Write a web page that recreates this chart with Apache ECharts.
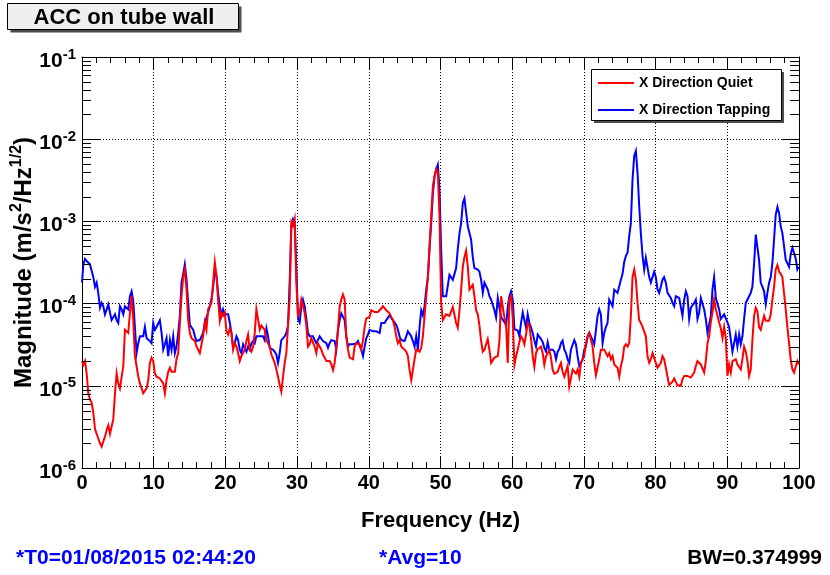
<!DOCTYPE html>
<html>
<head>
<meta charset="utf-8">
<title>ACC on tube wall</title>
<script src="https://cdn.jsdelivr.net/npm/echarts@6/dist/echarts.min.js"></script>
<style>
  html, body { margin: 0; padding: 0; background: #ffffff; }
  #chart { width: 830px; height: 575px; }
</style>
</head>
<body>
<div id="chart"></div>
<script>
// Amplitude spectral density of the accelerometer on the tube wall, 0-100 Hz.
const freqHz = [
  0.00, 0.19, 0.42, 0.65, 0.88, 1.11, 1.35, 1.58,
  1.81, 2.04, 2.27, 2.51, 2.74, 2.97, 3.20, 3.44,
  3.67, 3.90, 4.13, 4.36, 4.60, 4.83, 5.06, 5.29,
  5.53, 5.76, 5.99, 6.22, 6.45, 6.69, 6.92, 7.15,
  7.38, 7.61, 7.85, 8.08, 8.31, 8.54, 8.77, 9.01,
  9.24, 9.47, 9.70, 9.93, 10.17, 10.40, 10.63, 10.86,
  11.10, 11.33, 11.56, 11.79, 12.02, 12.26, 12.49, 12.72,
  12.95, 13.18, 13.42, 13.65, 13.88, 14.11, 14.34, 14.58,
  14.81, 15.04, 15.27, 15.51, 15.74, 15.97, 16.20, 16.43,
  16.66, 16.89, 17.13, 17.36, 17.59, 17.82, 18.05, 18.29,
  18.52, 18.75, 18.98, 19.22, 19.45, 19.68, 19.91, 20.14,
  20.38, 20.61, 20.84, 21.07, 21.30, 21.54, 21.77, 22.00,
  22.23, 22.47, 22.70, 22.93, 23.16, 23.39, 23.63, 23.86,
  24.09, 24.32, 24.55, 24.79, 25.02, 25.25, 25.48, 25.72,
  25.95, 26.18, 26.41, 26.64, 26.88, 27.11, 27.34, 27.57,
  27.80, 28.04, 28.27, 28.50, 28.73, 28.96, 29.20, 29.43,
  29.66, 29.89, 30.13, 30.36, 30.59, 30.82, 31.05, 31.29,
  31.52, 31.75, 31.98, 32.21, 32.45, 32.68, 32.91, 33.14,
  33.38, 33.61, 33.85, 34.08, 34.31, 34.54, 34.77, 35.01,
  35.24, 35.47, 35.70, 35.94, 36.17, 36.40, 36.63, 36.86,
  37.10, 37.33, 37.56, 37.79, 38.02, 38.26, 38.49, 38.72,
  38.95, 39.19, 39.42, 39.65, 39.88, 40.11, 40.35, 40.58,
  40.81, 41.04, 41.27, 41.51, 41.74, 41.97, 42.20, 42.44,
  42.67, 42.90, 43.13, 43.36, 43.60, 43.83, 44.06, 44.29,
  44.52, 44.76, 44.99, 45.22, 45.45, 45.69, 45.92, 46.15,
  46.38, 46.61, 46.85, 47.08, 47.31, 47.54, 47.77, 48.01,
  48.24, 48.47, 48.70, 48.94, 49.17, 49.40, 49.63, 49.86,
  50.09, 50.32, 50.56, 50.79, 51.02, 51.25, 51.48, 51.72,
  51.95, 52.18, 52.41, 52.65, 52.88, 53.11, 53.34, 53.57,
  53.81, 54.04, 54.27, 54.50, 54.73, 54.97, 55.20, 55.43,
  55.66, 55.90, 56.13, 56.36, 56.59, 56.82, 57.06, 57.29,
  57.52, 57.75, 57.99, 58.22, 58.45, 58.68, 58.91, 59.15,
  59.38, 59.61, 59.84, 60.07, 60.31, 60.54, 60.77, 61.00,
  61.23, 61.47, 61.70, 61.93, 62.16, 62.40, 62.63, 62.86,
  63.09, 63.32, 63.56, 63.79, 64.02, 64.25, 64.48, 64.72,
  64.95, 65.18, 65.41, 65.65, 65.88, 66.11, 66.34, 66.57,
  66.80, 67.03, 67.27, 67.50, 67.73, 67.96, 68.19, 68.43,
  68.66, 68.89, 69.12, 69.36, 69.59, 69.82, 70.05, 70.28,
  70.52, 70.75, 70.98, 71.21, 71.44, 71.68, 71.91, 72.14,
  72.37, 72.61, 72.84, 73.07, 73.30, 73.53, 73.77, 74.00,
  74.23, 74.46, 74.69, 74.93, 75.16, 75.39, 75.62, 75.86,
  76.09, 76.32, 76.55, 76.78, 77.02, 77.25, 77.48, 77.71,
  77.94, 78.18, 78.41, 78.64, 78.87, 79.11, 79.34, 79.57,
  79.80, 80.03, 80.27, 80.50, 80.73, 80.96, 81.19, 81.43,
  81.66, 81.89, 82.12, 82.36, 82.59, 82.82, 83.05, 83.29,
  83.52, 83.75, 83.99, 84.22, 84.45, 84.68, 84.91, 85.15,
  85.38, 85.61, 85.84, 86.08, 86.31, 86.54, 86.77, 87.00,
  87.24, 87.47, 87.70, 87.93, 88.16, 88.40, 88.63, 88.86,
  89.09, 89.33, 89.56, 89.79, 90.02, 90.25, 90.49, 90.72,
  90.95, 91.18, 91.41, 91.65, 91.88, 92.11, 92.34, 92.58,
  92.81, 93.04, 93.27, 93.50, 93.74, 93.97, 94.20, 94.43,
  94.66, 94.90, 95.13, 95.36, 95.59, 95.83, 96.06, 96.29,
  96.52, 96.75, 96.99, 97.22, 97.45, 97.68, 97.91, 98.15,
  98.38, 98.61, 98.84, 99.08, 99.31, 99.54, 99.77, 99.95
];

// X direction, tapping on the tube (m/s^2/Hz^1/2)
const tappingMag = [
  1.8e-4, 3.0e-4, 3.5e-4, 3.3e-4, 3.2e-4, 3.0e-4, 3.0e-4, 2.1e-4,
  1.6e-4, 1.8e-4, 1.35e-4, 8.9e-5, 1.02e-4, 9.3e-5, 7.4e-5, 8.5e-5,
  9.8e-5, 7.8e-5, 6.3e-5, 6.3e-5, 7.4e-5, 6.3e-5, 5.8e-5, 9.3e-5,
  8.5e-5, 7.4e-5, 9.3e-5, 9.8e-5, 8.5e-5, 1.23e-4, 1.41e-4, 1.07e-4,
  5.2e-5, 2.5e-5, 3.3e-5, 4.0e-5, 4.2e-5, 4.0e-5, 5.2e-5, 3.8e-5,
  3.6e-5, 3.5e-5, 3.3e-5, 5.8e-5, 4.8e-5, 5.2e-5, 5.0e-5, 6.3e-5,
  4.4e-5, 2.75e-5, 3.2e-5, 3.8e-5, 2.3e-5, 3.6e-5, 2.75e-5, 4.0e-5,
  2.5e-5, 3.0e-5, 4.4e-5, 7.1e-5, 1.8e-4, 2.3e-4, 3.0e-4, 1.95e-4,
  1.02e-4, 5.5e-5, 5.8e-5, 4.8e-5, 4.0e-5, 3.5e-5, 3.5e-5, 3.6e-5,
  3.5e-5, 4.4e-5, 5.9e-5, 5.6e-5, 7.8e-5, 9.3e-5, 1.12e-4, 1.6e-4,
  2.6e-4, 2.2e-4, 1.35e-4, 9.3e-5, 7.1e-5, 8.5e-5, 7.4e-5, 7.1e-5,
  7.4e-5, 5.9e-5, 4.4e-5, 3.0e-5, 3.3e-5, 4.0e-5, 3.6e-5, 2.75e-5,
  2.5e-5, 3.2e-5, 3.3e-5, 2.6e-5, 3.0e-5, 2.75e-5, 3.3e-5, 3.5e-5,
  3.3e-5, 4.0e-5, 3.8e-5, 4.0e-5, 3.8e-5, 4.0e-5, 3.6e-5, 5.0e-5,
  4.0e-5, 2.9e-5, 2.75e-5, 2.75e-5, 2.6e-5, 2.4e-5, 1.9e-5, 2.5e-5,
  3.6e-5, 3.8e-5, 4.0e-5, 4.4e-5, 5.4e-5, 1.8e-4, 8.9e-4, 1.07e-3,
  9.8e-4, 2.9e-4, 6.5e-5, 5.9e-5, 9.3e-5, 1.12e-4, 9.3e-5, 6.5e-5,
  4.4e-5, 4.0e-5, 4.2e-5, 4.0e-5, 3.6e-5, 3.3e-5, 3.6e-5, 4.0e-5,
  4.0e-5, 3.5e-5, 3.5e-5, 3.3e-5, 2.9e-5, 3.3e-5, 3.6e-5, 3.8e-5,
  3.5e-5, 2.75e-5, 4.8e-5, 6.3e-5, 7.6e-5, 7.6e-5, 6.3e-5, 4.0e-5,
  3.0e-5, 3.2e-5, 3.3e-5, 3.2e-5, 3.3e-5, 3.3e-5, 3.5e-5, 3.6e-5,
  2.75e-5, 2.3e-5, 3.0e-5, 3.8e-5, 4.2e-5, 4.8e-5, 5.0e-5, 4.6e-5,
  4.4e-5, 4.6e-5, 4.4e-5, 4.4e-5, 5.8e-5, 5.8e-5, 5.8e-5, 6.3e-5,
  6.6e-5, 7.2e-5, 6.9e-5, 6.3e-5, 6.0e-5, 5.5e-5, 4.8e-5, 4.0e-5,
  3.6e-5, 3.5e-5, 3.5e-5, 4.0e-5, 4.6e-5, 4.4e-5, 4.0e-5, 3.5e-5,
  3.0e-5, 4.0e-5, 2.75e-5, 5.2e-5, 8.3e-5, 7.2e-5, 9.3e-5, 1.48e-4,
  2.1e-4, 4.6e-4, 9.5e-4, 2.2e-3, 3.55e-3, 4.3e-3, 4.9e-3, 2.45e-3,
  4.6e-4, 1.23e-4, 1.23e-4, 1.23e-4, 1.29e-4, 2.24e-4, 2.1e-4, 1.95e-4,
  2.3e-4, 2.7e-4, 4.6e-4, 7.2e-4, 9.5e-4, 1.66e-3, 1.9e-3, 2.0e-3,
  8.7e-4, 8.3e-4, 6.0e-4, 3.7e-4, 2.7e-4, 2.6e-4, 2.6e-4, 2.45e-4,
  1.95e-4, 1.35e-4, 1.8e-4, 1.86e-4, 1.48e-4, 1.23e-4, 1.12e-4, 1.12e-4,
  8.3e-5, 6.8e-5, 1.17e-4, 1.12e-4, 6.8e-5, 6.8e-5, 6.0e-5, 5.4e-5,
  9.1e-5, 1.23e-4, 1.41e-4, 1.12e-4, 4.9e-5, 5.1e-5, 4.7e-5, 4.0e-5,
  5.8e-5, 7.8e-5, 7.4e-5, 5.1e-5, 7.4e-5, 5.8e-5, 5.1e-5, 4.4e-5,
  3.55e-5, 3.0e-5, 4.2e-5, 4.0e-5, 3.7e-5, 3.4e-5, 2.9e-5, 2.6e-5,
  3.4e-5, 2.75e-5, 2.75e-5, 2.75e-5, 2.6e-5, 2.1e-5, 2.6e-5, 2.8e-5,
  3.3e-5, 3.55e-5, 2.75e-5, 2.5e-5, 2.1e-5, 1.9e-5, 2.75e-5, 2.9e-5,
  3.6e-5, 3.2e-5, 2.3e-5, 1.74e-5, 1.9e-5, 2.1e-5, 2.75e-5, 3.0e-5,
  4.0e-5, 4.4e-5, 4.0e-5, 3.6e-5, 3.2e-5, 4.8e-5, 7.1e-5, 8.5e-5,
  7.4e-5, 3.3e-5, 4.4e-5, 5.2e-5, 5.8e-5, 1.12e-4, 1.12e-4, 9.3e-5,
  1.48e-4, 1.41e-4, 1.35e-4, 1.29e-4, 1.95e-4, 2.3e-4, 3.2e-4, 3.8e-4,
  4.2e-4, 6.6e-4, 9.5e-4, 3.2e-3, 6.3e-3, 7.2e-3, 3.9e-3, 1.55e-3,
  7.2e-4, 3.8e-4, 2.6e-4, 3.6e-4, 3.8e-4, 2.1e-4, 1.8e-4, 2.1e-4,
  2.45e-4, 2.1e-4, 1.48e-4, 1.35e-4, 1.6e-4, 1.95e-4, 2.1e-4, 1.8e-4,
  1.35e-4, 1.35e-4, 1.17e-4, 1.02e-4, 9.3e-5, 1.23e-4, 1.29e-4, 1.17e-4,
  1.12e-4, 7.1e-5, 1.12e-4, 1.41e-4, 1.23e-4, 6.5e-5, 8.9e-5, 8.9e-5,
  1.02e-4, 1.12e-4, 6.5e-5, 7.8e-5, 1.17e-4, 1.17e-4, 8.5e-5, 6.5e-5,
  4.4e-5, 4.6e-5, 7.1e-5, 1.48e-4, 2.1e-4, 1.17e-4, 1.12e-4, 8.5e-5,
  6.5e-5, 6.8e-5, 7.4e-5, 7.1e-5, 5.9e-5, 5.2e-5, 5.2e-5, 2.6e-5,
  3.3e-5, 4.2e-5, 3.0e-5, 4.2e-5, 3.2e-5, 4.0e-5, 6.5e-5, 1.02e-4,
  1.07e-4, 1.23e-4, 1.35e-4, 1.6e-4, 3.1e-4, 6.9e-4, 6.9e-4, 3.4e-4,
  1.8e-4, 1.6e-4, 1.41e-4, 9.8e-5, 1.35e-4, 1.8e-4, 2.1e-4, 3.1e-4,
  6.0e-4, 1.2e-3, 1.5e-3, 1.26e-3, 8.7e-4, 7.2e-4, 5.0e-4, 3.4e-4,
  3.1e-4, 2.8e-4, 4.0e-4, 4.8e-4, 4.6e-4, 3.55e-4, 2.6e-4, 2.8e-4
];

// X direction, quiet tube (m/s^2/Hz^1/2)
const quietMag = [
  2.0e-5, 1.8e-5, 2.0e-5, 1.41e-5, 8.1e-6, 6.8e-6, 6.2e-6, 4.7e-6,
  3.0e-6, 2.6e-6, 2.3e-6, 2.0e-6, 1.82e-6, 2.1e-6, 2.4e-6, 2.9e-6,
  3.3e-6, 2.6e-6, 3.2e-6, 3.9e-6, 8.1e-6, 1.41e-5, 1.07e-5, 9.3e-6,
  9.8e-6, 1.74e-5, 4.8e-5, 5.0e-5, 4.4e-5, 7.8e-5, 1.23e-4, 6.3e-5,
  2.3e-5, 1.74e-5, 1.29e-5, 1.07e-5, 1.02e-5, 8.1e-6, 8.5e-6, 9.3e-6,
  1.17e-5, 1.9e-5, 2.2e-5, 2.0e-5, 1.41e-5, 1.29e-5, 1.29e-5, 1.23e-5,
  1.17e-5, 1.07e-5, 8.1e-6, 1.17e-5, 1.48e-5, 1.66e-5, 1.48e-5, 1.41e-5,
  1.48e-5, 2.1e-5, 2.5e-5, 5.8e-5, 1.23e-4, 2.1e-4, 2.6e-4, 1.48e-4,
  6.3e-5, 4.4e-5, 3.8e-5, 3.6e-5, 3.5e-5, 3.0e-5, 2.75e-5, 2.5e-5,
  2.5e-5, 4.0e-5, 5.9e-5, 4.8e-5, 8.5e-5, 9.3e-5, 1.02e-4, 1.8e-4,
  3.2e-4, 2.2e-4, 1.12e-4, 6.2e-5, 7.8e-5, 7.1e-5, 7.8e-5, 4.6e-5,
  4.2e-5, 5.0e-5, 4.4e-5, 2.75e-5, 3.3e-5, 3.0e-5, 2.5e-5, 2.0e-5,
  2.3e-5, 2.3e-5, 2.75e-5, 3.5e-5, 4.2e-5, 2.75e-5, 2.6e-5, 3.0e-5,
  4.4e-5, 8.5e-5, 6.5e-5, 4.8e-5, 5.4e-5, 5.6e-5, 4.8e-5, 3.6e-5,
  3.3e-5, 3.0e-5, 2.4e-5, 2.3e-5, 1.9e-5, 1.58e-5, 1.29e-5, 1.02e-5,
  8.5e-6, 1.29e-5, 1.9e-5, 2.5e-5, 2.4e-5, 1.12e-4, 9.8e-4, 8.9e-4,
  1.07e-3, 1.8e-4, 7.1e-5, 7.8e-5, 1.12e-4, 1.07e-4, 7.8e-5, 5.4e-5,
  3.0e-5, 3.2e-5, 3.8e-5, 4.0e-5, 3.0e-5, 2.5e-5, 3.3e-5, 3.0e-5,
  2.75e-5, 2.4e-5, 2.2e-5, 2.0e-5, 1.9e-5, 2.0e-5, 1.82e-5, 1.55e-5,
  1.9e-5, 1.9e-5, 4.8e-5, 9.3e-5, 1.12e-4, 1.29e-4, 1.12e-4, 4.0e-5,
  2.75e-5, 2.2e-5, 2.1e-5, 2.1e-5, 3.0e-5, 3.3e-5, 3.3e-5, 3.2e-5,
  2.75e-5, 3.6e-5, 5.2e-5, 6.6e-5, 6.9e-5, 6.9e-5, 8.3e-5, 8.7e-5,
  7.9e-5, 7.6e-5, 7.9e-5, 8.3e-5, 8.7e-5, 9.3e-5, 9.8e-5, 8.3e-5,
  7.9e-5, 7.6e-5, 6.9e-5, 6.3e-5, 5.2e-5, 4.0e-5, 3.3e-5, 3.6e-5,
  3.0e-5, 3.0e-5, 2.75e-5, 2.6e-5, 2.3e-5, 1.55e-5, 1.17e-5, 1.17e-5,
  2.1e-5, 2.75e-5, 2.75e-5, 2.6e-5, 2.9e-5, 4.0e-5, 6.9e-5, 1.23e-4,
  2.1e-4, 5.0e-4, 1.15e-3, 2.7e-3, 3.55e-3, 4.3e-3, 3.9e-3, 1.15e-3,
  1.02e-4, 6.3e-5, 6.0e-5, 7.4e-5, 7.1e-5, 7.1e-5, 6.8e-5, 9.1e-5,
  8.7e-5, 5.8e-5, 5.1e-5, 8.3e-5, 1.48e-4, 2.8e-4, 3.7e-4, 4.4e-4,
  2.8e-4, 1.48e-4, 1.48e-4, 1.7e-4, 1.23e-4, 8.3e-5, 7.4e-5, 5.4e-5,
  3.55e-5, 2.6e-5, 2.75e-5, 3.2e-5, 3.7e-5, 2.75e-5, 1.9e-5, 2.0e-5,
  2.2e-5, 2.2e-5, 2.3e-5, 3.55e-5, 1.23e-4, 1.29e-4, 6.8e-5, 5.4e-5,
  1.9e-5, 1.12e-4, 1.23e-4, 6.8e-5, 1.8e-5, 2.3e-5, 2.75e-5, 3.4e-5,
  4.0e-5, 3.7e-5, 3.2e-5, 4.2e-5, 5.8e-5, 5.4e-5, 3.7e-5, 2.3e-5,
  1.7e-5, 2.5e-5, 2.8e-5, 2.7e-5, 3.0e-5, 2.5e-5, 1.8e-5, 2.3e-5,
  2.2e-5, 2.7e-5, 2.2e-5, 1.55e-5, 1.4e-5, 1.4e-5, 1.48e-5, 1.7e-5,
  1.9e-5, 1.48e-5, 1.29e-5, 1.23e-5, 1.74e-5, 9.8e-6, 1.02e-5, 1.58e-5,
  1.66e-5, 1.41e-5, 1.58e-5, 1.29e-5, 1.9e-5, 2.1e-5, 2.3e-5, 3.3e-5,
  4.0e-5, 4.4e-5, 4.2e-5, 3.0e-5, 1.9e-5, 1.35e-5, 1.29e-5, 2.1e-5,
  2.75e-5, 2.9e-5, 2.75e-5, 2.5e-5, 2.3e-5, 2.5e-5, 2.1e-5, 2.3e-5,
  1.82e-5, 1.74e-5, 1.66e-5, 1.29e-5, 1.74e-5, 2.1e-5, 3.0e-5, 3.2e-5,
  3.0e-5, 3.3e-5, 7.1e-5, 2.1e-4, 2.6e-4, 1.95e-4, 1.02e-4, 6.3e-5,
  5.8e-5, 5.2e-5, 5.0e-5, 4.0e-5, 2.3e-5, 1.9e-5, 2.1e-5, 2.5e-5,
  2.4e-5, 1.9e-5, 1.66e-5, 1.74e-5, 1.9e-5, 2.3e-5, 2.1e-5, 1.66e-5,
  1.29e-5, 1.02e-5, 1.02e-5, 1.12e-5, 1.23e-5, 1.29e-5, 1.02e-5, 1.0e-5,
  1.0e-5, 1.2e-5, 1.32e-5, 1.26e-5, 1.32e-5, 1.26e-5, 1.26e-5, 1.2e-5,
  1.45e-5, 1.74e-5, 2.0e-5, 1.9e-5, 1.82e-5, 1.74e-5, 1.45e-5, 2.0e-5,
  3.3e-5, 4.0e-5, 5.9e-5, 7.8e-5, 1.12e-4, 8.5e-5, 7.1e-5, 5.9e-5,
  5.0e-5, 3.8e-5, 5.2e-5, 3.8e-5, 1.32e-5, 1.82e-5, 1.45e-5, 2.0e-5,
  1.9e-5, 2.1e-5, 1.82e-5, 1.74e-5, 1.58e-5, 2.1e-5, 3.0e-5, 2.6e-5,
  2.0e-5, 1.32e-5, 1.58e-5, 3.6e-5, 7.1e-5, 8.9e-5, 8.1e-5, 5.2e-5,
  4.8e-5, 5.0e-5, 7.1e-5, 6.2e-5, 5.9e-5, 6.2e-5, 7.4e-5, 1.12e-4,
  1.6e-4, 2.6e-4, 2.95e-4, 2.45e-4, 2.3e-4, 2.1e-4, 1.35e-4, 8.5e-5,
  5.2e-5, 3.3e-5, 2.1e-5, 1.58e-5, 1.45e-5, 1.45e-5, 2.0e-5, 1.82e-5
];

const seriesNames = ['X Direction Quiet', 'X Direction Tapping'];
// Log-axis minor tick positions: mantissas 2..9 in each decade
const minorMantissas = [2, 3, 4, 5, 6, 7, 8, 9];
const minorDecades = [1e-6, 1e-5, 1e-4, 1e-3, 1e-2];

const FONT = '"Liberation Sans", Arial, Helvetica, sans-serif';
const BLACK = '#000000';

const quietData = freqHz.map((f, i) => [f, quietMag[i]]);
const tappingData = freqHz.map((f, i) => [f, tappingMag[i]]);
const minorTickValues = [];
minorDecades.forEach(d => minorMantissas.forEach(m => minorTickValues.push([0, m * d])));

const dotted = { color: BLACK, width: 1, type: [1, 2] };

function xAxisBase(position) {
  return {
    type: 'value', min: 0, max: 100, interval: 10, position: position,
    axisLine: { show: true, onZero: false, lineStyle: { color: BLACK, width: 1 } },
    axisTick: { show: true, inside: true, length: 12, lineStyle: { color: BLACK, width: 1 } },
    minorTick: { show: true, splitNumber: 5, length: 6, lineStyle: { color: BLACK, width: 1 } },
    minorSplitLine: { show: false }
  };
}

function yAxisBase(position) {
  return {
    type: 'log', logBase: 10, min: 1e-6, max: 1e-1, splitNumber: 5, position: position,
    axisLine: { show: true, onZero: false, lineStyle: { color: BLACK, width: 1 } },
    axisTick: { show: true, inside: true, length: 18, lineStyle: { color: BLACK, width: 1 } }
  };
}

const chart = echarts.init(document.getElementById('chart'), null, { renderer: 'canvas' });

const option = {
  animation: false,
  backgroundColor: '#ffffff',
  textStyle: { fontFamily: FONT },
  grid: { left: 82, top: 57, width: 717, height: 411, containLabel: false, outerBoundsMode: 'none' },
  legend: {
    data: seriesNames,
    orient: 'vertical',
    left: 598, top: 76,
    padding: 0,
    itemWidth: 36, itemHeight: 2, itemGap: 13,
    icon: 'rect',
    selectedMode: false,
    textStyle: { fontFamily: FONT, fontWeight: 'bold', fontSize: 14, color: BLACK, lineHeight: 14 }
  },
  xAxis: [
    Object.assign(xAxisBase('bottom'), {
      splitLine: { show: true, lineStyle: dotted },
      axisLabel: {
        show: true, color: BLACK, fontFamily: FONT, fontWeight: 'bold', fontSize: 20, margin: 5,
        alignMinLabel: 'center', alignMaxLabel: 'center', hideOverlap: false
      },
      name: 'Frequency (Hz)',
      nameLocation: 'middle',
      nameGap: 42,
      nameMoveOverlap: false,
      nameTextStyle: { fontFamily: FONT, fontWeight: 'bold', fontSize: 22, color: BLACK }
    }),
    Object.assign(xAxisBase('top'), {
      splitLine: { show: false },
      axisLabel: { show: false }
    })
  ],
  yAxis: [
    Object.assign(yAxisBase('left'), {
      splitLine: { show: true, lineStyle: dotted },
      axisLabel: {
        show: true, margin: 6, padding: [8, 0, 0, 0], hideOverlap: false,
        formatter: function (v) {
          const e = Math.round(Math.log10(v));
          return '{b|10}{s|' + e + '}';
        },
        rich: {
          b: { fontFamily: FONT, fontWeight: 'bold', fontSize: 21, color: BLACK, lineHeight: 28, verticalAlign: 'middle' },
          s: { fontFamily: FONT, fontWeight: 'bold', fontSize: 15, color: BLACK, lineHeight: 12, verticalAlign: 'top' }
        }
      },
      name: 'Magnitude (m/s{s|2}/Hz{s|1/2})',
      nameLocation: 'middle',
      nameRotate: 90,
      nameGap: 43,
      nameMoveOverlap: false,
      nameTextStyle: {
        fontFamily: FONT, fontWeight: 'bold', fontSize: 24, color: BLACK, lineHeight: 30,
        rich: {
          s: { fontFamily: FONT, fontWeight: 'bold', fontSize: 16, color: BLACK, lineHeight: 14, verticalAlign: 'top' }
        }
      }
    }),
    Object.assign(yAxisBase('right'), {
      splitLine: { show: false },
      axisLabel: { show: false }
    })
  ],
  series: [
    {
      name: 'X Direction Tapping', type: 'line', xAxisIndex: 0, yAxisIndex: 0,
      data: tappingData, showSymbol: false, symbol: 'none', z: 2,
      color: '#0000ff',
      lineStyle: { color: '#0000ff', width: 2, join: 'miter' }
    },
    {
      name: 'X Direction Quiet', type: 'line', xAxisIndex: 0, yAxisIndex: 0,
      data: quietData, showSymbol: false, symbol: 'none', z: 3,
      color: '#ff0000',
      lineStyle: { color: '#ff0000', width: 2, join: 'miter' }
    },
    {
      // logarithmic minor ticks on the left and right frame edges
      type: 'custom', coordinateSystem: 'cartesian2d', xAxisIndex: 0, yAxisIndex: 0,
      data: minorTickValues, silent: true, clip: false, z: 4,
      renderItem: function (params, api) {
        const v = api.value(1);
        const pl = api.coord([0, v]);
        const pr = api.coord([100, v]);
        const y = Math.round(pl[1]) + 0.5;
        return {
          type: 'group',
          children: [
            { type: 'line', shape: { x1: pl[0], y1: y, x2: pl[0] + 9, y2: y }, style: { stroke: BLACK, lineWidth: 1 } },
            { type: 'line', shape: { x1: pr[0] - 9, y1: y, x2: pr[0], y2: y }, style: { stroke: BLACK, lineWidth: 1 } }
          ]
        };
      }
    }
  ],
  graphic: [
    // title box with drop shadow
    { type: 'rect', z: 10, shape: { x: 10.5, y: 6.5, width: 231, height: 26 }, style: { fill: '#4d4d4d' } },
    { type: 'rect', z: 11, shape: { x: 7.5, y: 3.5, width: 231, height: 26 }, style: { fill: '#efefef', stroke: BLACK, lineWidth: 1 } },
    { type: 'text', z: 12, x: 124, y: 17.5,
      style: { text: 'ACC on tube wall', fill: BLACK, font: 'bold 22px ' + FONT, align: 'center', verticalAlign: 'middle' } },
    // legend frame with drop shadow
    { type: 'rect', z: 3, shape: { x: 594, y: 72, width: 190, height: 51 }, style: { fill: '#4d4d4d' } },
    { type: 'rect', z: 3, shape: { x: 591.5, y: 69.5, width: 190, height: 51 }, style: { fill: '#ffffff', stroke: BLACK, lineWidth: 1 } },
    // run information
    { type: 'text', z: 12, x: 16, y: 558,
      style: { text: '*T0=01/08/2015 02:44:20', fill: '#0000ff', font: 'bold 21px ' + FONT, align: 'left', verticalAlign: 'middle' } },
    { type: 'text', z: 12, x: 379, y: 558,
      style: { text: '*Avg=10', fill: '#0000ff', font: 'bold 21px ' + FONT, align: 'left', verticalAlign: 'middle' } },
    { type: 'text', z: 12, x: 822, y: 558,
      style: { text: 'BW=0.374999', fill: BLACK, font: 'bold 21px ' + FONT, align: 'right', verticalAlign: 'middle' } }
  ]
};

chart.setOption(option);
</script>
</body>
</html>
